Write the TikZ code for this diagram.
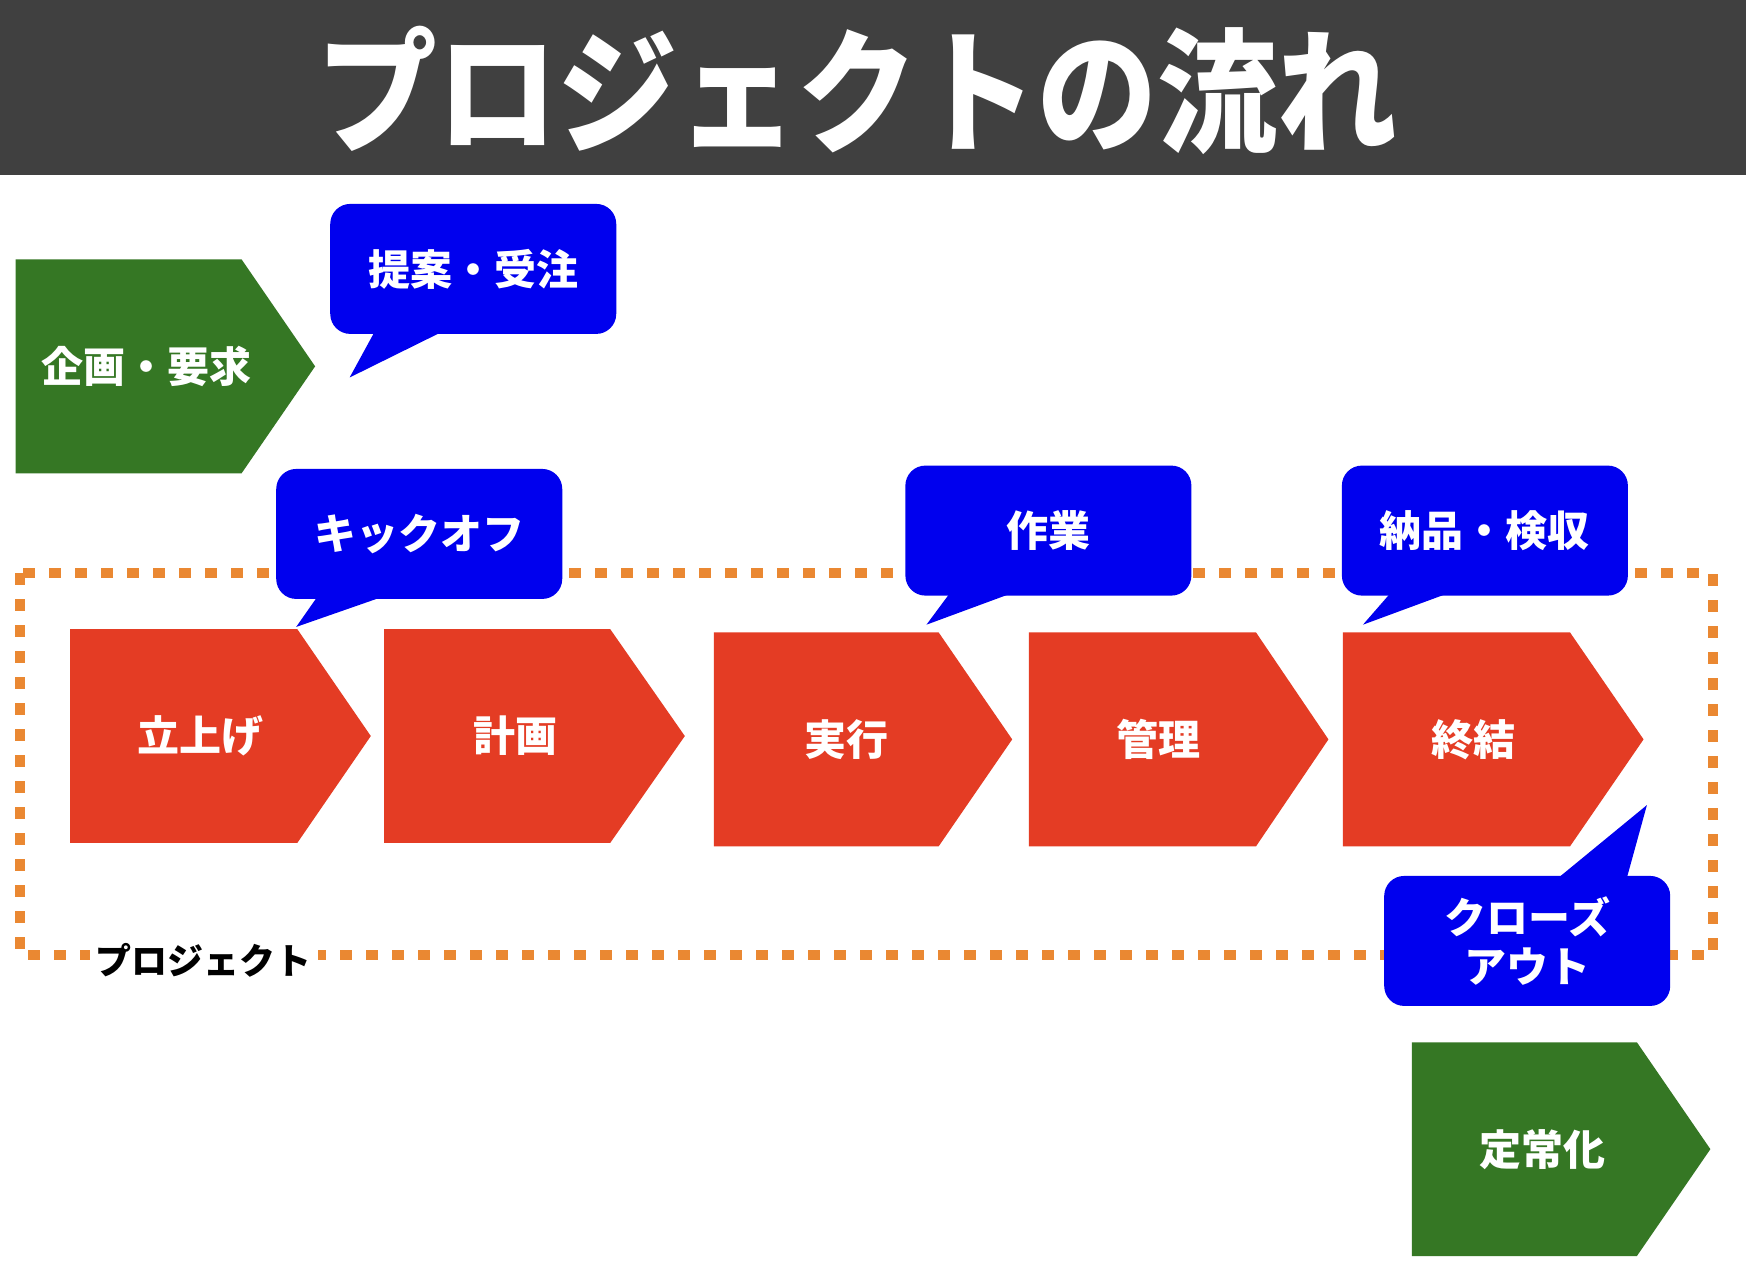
\documentclass[tikz,border=0pt]{standalone}
\usepackage{fontspec}
\setmainfont{Noto Sans CJK JP}
\newfontfamily\jp{Noto Sans CJK JP}
\definecolor{barbg}{RGB}{64,64,64}
\definecolor{pgreen}{RGB}{53,119,36}
\definecolor{pred}{RGB}{228,60,36}
\definecolor{pblue}{RGB}{0,0,238}
\definecolor{porange}{RGB}{234,136,50}
\newcommand\pentabox[7]{% name, color, x1, x2, xtip, y1, y2
  \fill[#2] (#3,#6) -- (#4,#6) -- (#5,{(#6+#7)/2}) -- (#4,#7) -- (#3,#7) -- cycle;
}
\tikzset{
  titletext/.style={text=white, font=\jp\bfseries\fontsize{120}{130}\selectfont, inner sep=0pt},
  boxtext/.style={text=white, font=\jp\bfseries\fontsize{42}{50}\selectfont, inner sep=0pt},
  bubble/.style={fill=pblue, rounded corners=20pt, minimum width=286pt, minimum height=130pt, inner sep=0pt},
  bubbletext/.style={text=white, font=\jp\bfseries\fontsize{42}{49}\selectfont, align=center},
  projlabel/.style={text=black, fill=white, font=\jp\bfseries\fontsize{36}{40}\selectfont, inner sep=6pt},
  projframe/.style={draw=porange, line width=10pt, dash pattern=on 12pt off 14pt},
}
\begin{document}
\begin{tikzpicture}[x=1.1135pt,y=-1.1135pt]
\useasboundingbox (0,0) rectangle (1568,1144);
\fill[white] (0,0) rectangle (1568,1144);
% title bar
\fill[barbg] (0,0) rectangle (1568,157);
\node[titletext, yscale=1.12, transform shape] (title) at (770,81) {プロジェクトの流れ};

% project frame
\draw[projframe] (18,515) rectangle (1538,858);
\node[projlabel] (projlbl) at (183,862) {プロジェクト};

% green boxes
\pentabox{g1}{pgreen}{14}{217}{283}{233}{425}
\node[boxtext] (kikaku) at (132,329) {企画・要求};
\pentabox{g2}{pgreen}{1268}{1470}{1536}{936}{1128}
\node[boxtext] (teijo) at (1385,1032) {定常化};

% red process boxes
\pentabox{r1}{pred}{63}{267}{333}{565}{757}
\node[boxtext] (tachiage) at (180,661) {立上げ};
\pentabox{r2}{pred}{345}{548}{615}{565}{757}
\node[boxtext] (keikaku) at (463,661) {計画};
\pentabox{r3}{pred}{641}{843}{909}{568}{760}
\node[boxtext] (jikko) at (760,664) {実行};
\pentabox{r4}{pred}{924}{1128}{1193}{568}{760}
\node[boxtext] (kanri) at (1040,664) {管理};
\pentabox{r5}{pred}{1206}{1410}{1476}{568}{760}
\node[boxtext] (shuketsu) at (1323,664) {終結};

% bubbles
\node[bubble] (b1) at (425,241.5) {};
\node[bubbletext] at (b1) {提案・受注};
\fill[pblue] (338,295) -- (403,295) -- (314,339) -- cycle;

\node[bubble] (b2) at (376.5,479.5) {};
\node[bubbletext] at (b2) {キックオフ};
\fill[pblue] (287,533) -- (352,533) -- (266,563) -- cycle;

\node[bubble] (b3) at (941.5,476.5) {};
\node[bubbletext] at (b3) {作業};
\fill[pblue] (855,530) -- (916,530) -- (832,561) -- cycle;

\node[bubble] (b4) at (1333.5,476.5) {};
\node[bubbletext] at (b4) {納品・検収};
\fill[pblue] (1251,530) -- (1308,530) -- (1224,561) -- cycle;

\node[bubble] (b5) at (1371.5,845) {};
\node[bubbletext] at (b5) {クローズ\\アウト};
\fill[pblue] (1395,792) -- (1460,792) -- (1479,723) -- cycle;
\end{tikzpicture}
\end{document}
